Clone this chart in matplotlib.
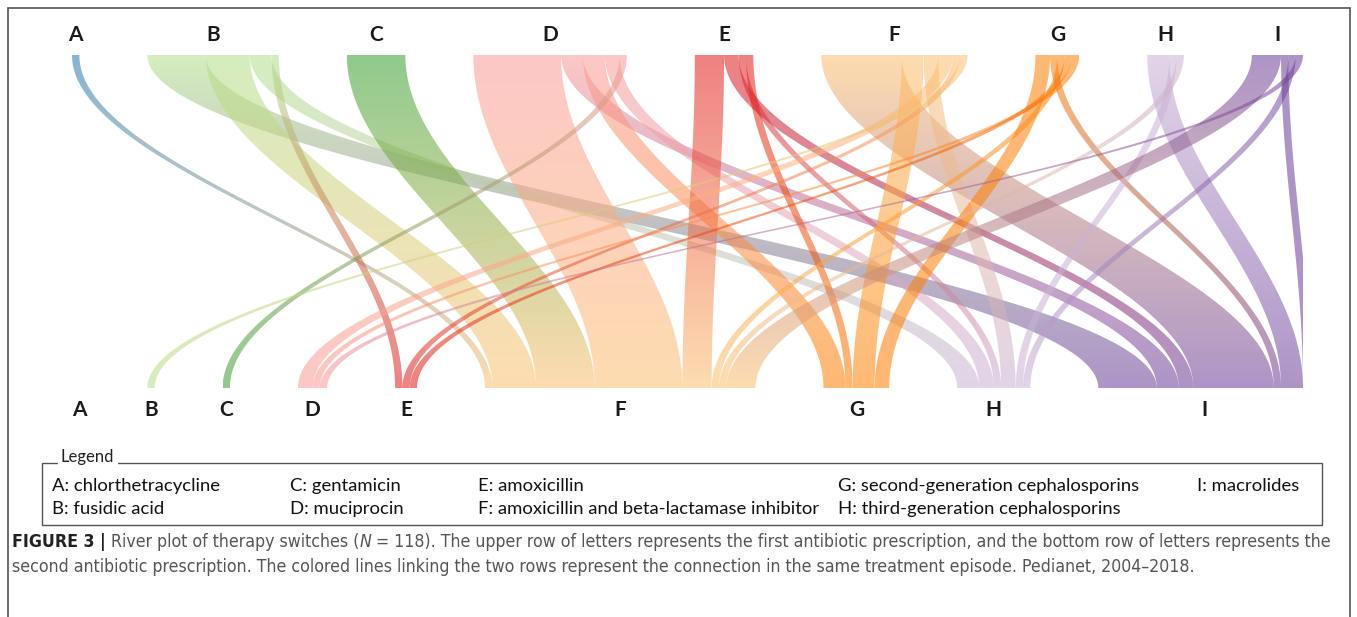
import numpy as np
import matplotlib
matplotlib.use("Agg")
import matplotlib.pyplot as plt
from matplotlib.patches import Polygon, Rectangle
from matplotlib.colors import to_rgb
from matplotlib import font_manager
from matplotlib.font_manager import FontProperties

# antibiotic classes
classes = ["A", "B", "C", "D", "E", "F", "G", "H", "I"]
class_names = ["chlorthetracycline", "fusidic acid", "gentamicin", "muciprocin",
               "amoxicillin", "amoxicillin and beta-lactamase inhibitor",
               "second-generation cephalosporins", "third-generation cephalosporins",
               "macrolides"]
class_colors = ["#1f78b4", "#b2df8a", "#33a02c", "#fb9a99", "#e31a1c",
                "#fdbf6f", "#ff7f00", "#cab2d6", "#6a3d9a"]

# therapy switches: first prescription -> second prescription, link size
first = ["A",
         "B", "B", "B", "B",
         "C",
         "D", "D", "D", "D", "D",
         "E", "E", "E", "E",
         "F", "F", "F", "F", "F", "F",
         "G", "G", "G", "G", "G",
         "H", "H", "H",
         "I", "I", "I", "I"]
second = ["F",
          "I", "F", "H", "E",
          "F",
          "F", "I", "G", "H", "C",
          "F", "I", "G", "H",
          "I", "G", "H", "D", "E", "B",
          "G", "D", "E", "F", "I",
          "I", "H", "F",
          "F", "H", "I", "D"]
size = [1,
        8, 6, 3, 1,
        8,
        12, 3, 3, 2, 1,
        4, 2, 1, 1,
        11, 3, 2, 2, 1, 1,
        2, 1, 1, 1, 1,
        3, 1, 1,
        4, 1, 1, 1]

W, H = 1357, 617
fig = plt.figure(figsize=(W / 100, H / 100), dpi=100)
fig.patch.set_facecolor("white")

# pixel-space layer for frame, legend and caption
bg = fig.add_axes([0, 0, 1, 1], zorder=0)
bg.set_xlim(0, W)
bg.set_ylim(H, 0)
bg.axis("off")

# river layout
gap = 9.3
alpha = 0.55
idx = {c: i for i, c in enumerate(classes)}
k = len(classes)
out_tot = np.zeros(k)
in_tot = np.zeros(k)
for s, t, w in zip(first, second, size):
    out_tot[idx[s]] += w
    in_tot[idx[t]] += w
top_x0 = np.concatenate([[0], np.cumsum(out_tot + gap)[:-1]])
bot_x0 = 1 + np.concatenate([[0], np.cumsum(in_tot + gap)[:-1]])
span = out_tot.sum() + gap * (k - 1)

links = range(len(first))
src_order = sorted(links, key=lambda j: (idx[first[j]], -size[j], -idx[second[j]]))
dst_order = sorted(links, key=lambda j: (idx[second[j]], idx[first[j]]))

top_pos, bot_pos = {}, {}
cur = top_x0.copy()
for j in src_order:
    i = idx[first[j]]
    top_pos[j] = (cur[i], cur[i] + size[j])
    cur[i] += size[j]
cur = bot_x0.copy()
for j in dst_order:
    i = idx[second[j]]
    bot_pos[j] = (cur[i], cur[i] + size[j])
    cur[i] += size[j]

ax = fig.add_axes([72 / W, 1 - 388 / H, (1303 - 72) / W, (388 - 55) / H], zorder=2)
ax.patch.set_alpha(0)

s = np.linspace(0, 1, 120)
ease = (1 - np.cos(np.pi * s)) / 2
g = np.linspace(0, 1, 256)[:, None]
for j in links:
    (a0, a1), (b0, b1) = top_pos[j], bot_pos[j]
    left = a0 + (b0 - a0) * ease
    right = a1 + (b1 - a1) * ease
    verts = np.vstack([np.column_stack([left, s]),
                       np.column_stack([right[::-1], s[::-1]])])
    patch = Polygon(verts, closed=True, fc="none", ec="none")
    ax.add_patch(patch)
    c0 = np.array(to_rgb(class_colors[idx[first[j]]]))
    c1 = np.array(to_rgb(class_colors[idx[second[j]]]))
    grad = np.ones((256, 1, 4))
    grad[:, 0, :3] = c0 * (1 - g) + c1 * g
    grad[:, 0, 3] = alpha
    im = ax.imshow(grad, extent=[min(a0, b0), max(a1, b1), 1, 0], origin="upper",
                   aspect="auto", interpolation="bilinear")
    im.set_clip_path(patch)

ax.set_xlim(0, span)
ax.set_ylim(1, 0)
ax.axis("off")

letter_font = "Lato"
for i, c in enumerate(classes):
    ax.text(top_x0[i] + out_tot[i] / 2, -0.06, c, ha="center", va="center",
            fontsize=15, fontweight="bold", family=letter_font, color="#1a1a1a",
            clip_on=False)
    ax.text(bot_x0[i] + in_tot[i] / 2, 1.066, c, ha="center", va="center",
            fontsize=15, fontweight="bold", family=letter_font, color="#1a1a1a",
            clip_on=False)

# outer frame
bg.plot([8, 8, 1350, 1350], [H, 8, 8, H], color="#555555", lw=1.2, solid_joinstyle="miter")

# legend box
bg.add_patch(Rectangle((42, 463), 1280, 62, fill=False, ec="#555555", lw=1.0))
bg.text(61, 457, "Legend", ha="left", va="center", fontsize=12, family=letter_font,
        color="#222222", bbox=dict(fc="white", ec="none", pad=2.5))
col_x = [52, 290, 478, 838, 1197]
row_y = [486, 509]
for i, c in enumerate(classes):
    bg.text(col_x[i // 2], row_y[i % 2], f"{c}: {class_names[i]}", ha="left", va="center",
            fontsize=13.3, family=letter_font, color="#111111")


# caption font: a narrow sans if one is installed
def find_face(keys):
    for key in keys:
        for f in font_manager.fontManager.ttflist:
            if key.lower() in f.fname.lower().replace(" ", "").replace("_", "").replace("-", ""):
                return f.fname
    return None


reg = find_face(["LiberationSansNarrowRegular", "DejaVuSansCondensed.ttf"])
bold = find_face(["LiberationSansNarrowBold.", "DejaVuSansCondensedBold"])
ital = find_face(["LiberationSansNarrowItalic", "DejaVuSansCondensedOblique"])


def fp(path, **kw):
    if path:
        return FontProperties(fname=path)
    return FontProperties(family="Liberation Sans", **kw)


cap_reg = fp(reg)
cap_bold = fp(bold, weight="bold")
cap_ital = fp(ital, style="italic")
renderer = fig.canvas.get_renderer()


def draw_runs(x, y, runs, fs):
    arts = []
    for txt, prop, col in runs:
        p = prop.copy()
        p.set_size(fs)
        t = bg.text(x, y, txt, ha="left", va="center", fontproperties=p, color=col)
        x += t.get_window_extent(renderer).width
        arts.append(t)
    return arts, x


gray = "#555555"
line1 = [("FIGURE 3 |", cap_bold, "#222222"),
         (" River plot of therapy switches (", cap_reg, gray),
         ("N", cap_ital, gray),
         (" = 118). The upper row of letters represents the first antibiotic prescription, "
          "and the bottom row of letters represents the", cap_reg, gray)]
line2 = [("second antibiotic prescription. The colored lines linking the two rows represent "
          "the connection in the same treatment episode. Pedianet, 2004\u20132018.", cap_reg, gray)]

arts, xe = draw_runs(12, 542, line1, 12)
fs = 12 * (1335 - 12) / (xe - 12)
for a in arts:
    a.remove()
draw_runs(12, 542, line1, fs)
draw_runs(12, 567, line2, fs)

fig.savefig("out.png", dpi=100, facecolor="white")
